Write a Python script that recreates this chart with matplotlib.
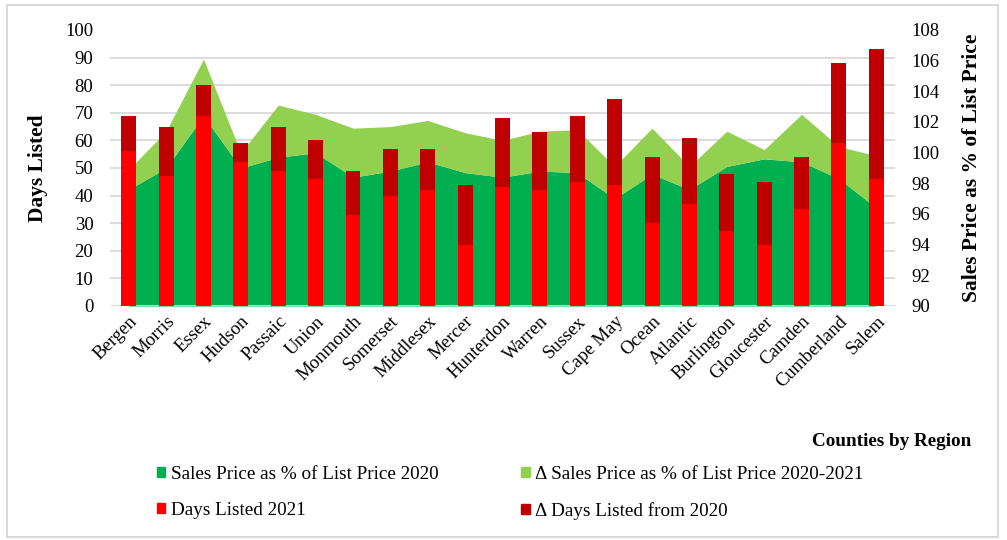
import numpy as np
import matplotlib
matplotlib.use("Agg")
import matplotlib.pyplot as plt
from matplotlib.patches import Patch, Rectangle
from matplotlib.ticker import FixedLocator

plt.rcParams['font.family'] = ['Liberation Serif', 'DejaVu Serif']

counties = ["Bergen", "Morris", "Essex", "Hudson", "Passaic", "Union", "Monmouth",
            "Somerset", "Middlesex", "Mercer", "Hunterdon", "Warren", "Sussex",
            "Cape May", "Ocean", "Atlantic", "Burlington", "Gloucester", "Camden",
            "Cumberland", "Salem"]

# days listed (left axis)
days_2021 = [56, 47, 69, 52, 49, 46, 33, 40, 42, 22, 43, 42, 45, 44, 30, 37, 27, 22, 35, 59, 46]
days_delta = [13, 18, 11, 7, 16, 14, 16, 17, 15, 22, 25, 21, 24, 31, 24, 24, 21, 23, 19, 29, 47]

# sales price as % of list price (right axis)
price_2020 = [97.6, 99.0, 102.4, 99.0, 99.7, 100.0, 98.4, 98.8, 99.4, 98.7, 98.4,
              98.8, 98.7, 97.0, 98.6, 97.6, 99.1, 99.6, 99.4, 98.3, 96.4]
price_delta = [1.3, 2.4, 3.7, 1.0, 3.4, 2.5, 3.2, 2.9, 2.7, 2.6, 2.4,
               2.6, 2.8, 2.1, 3.0, 1.5, 2.3, 0.6, 3.1, 2.1, 3.4]

c_green = "#00B050"
c_lgreen = "#92D050"
c_red = "#FF0000"
c_dred = "#C00000"
c_grid = "#D9D9D9"

fs_tick = 13.5
fs_lab = 15.5
fs_leg = 13.8

fig = plt.figure(figsize=(10.07, 5.4), dpi=100)
ax = fig.add_axes([110/1007, 1-306/540, 785/1007, 276/540])
ax2 = ax.twinx()
ax.set_zorder(ax2.get_zorder() + 1)
ax.patch.set_visible(False)

x = np.arange(len(counties))

# areas on right axis
p20 = np.array(price_2020)
p21 = p20 + np.array(price_delta)
ax2.fill_between(x, 90, p20, color=c_green, lw=0, zorder=2)
ax2.fill_between(x, p20, p21, color=c_lgreen, lw=0, zorder=2)
ax2.set_ylim(90, 108)
ax2.set_yticks(np.arange(90, 109, 2))
# gridlines follow the left axis (every 10 days) but sit behind the areas
ax2.yaxis.set_minor_locator(FixedLocator(90 + 1.8 * np.arange(1, 11)))
ax2.grid(which='minor', axis='y', color=c_grid, lw=1.3, zorder=0)
ax2.set_axisbelow(True)
ax2.tick_params(axis='y', which='both', length=0, labelsize=fs_tick, pad=12)
ax2.set_ylabel("Sales Price as % of List Price", fontsize=fs_lab, fontweight='bold')
ax2.yaxis.set_label_coords(1.085, 0.5)

# stacked bars on left axis
w = 0.4
ax.bar(x, days_2021, w, color=c_red, zorder=3)
ax.bar(x, days_delta, w, bottom=days_2021, color=c_dred, zorder=3)
ax.set_ylim(0, 100)
ax.set_yticks(np.arange(0, 101, 10))
ax.set_xlim(-0.5, len(counties) - 0.5)
ax.set_xticks(x)
ax.set_xticklabels(counties, rotation=45, ha='right', rotation_mode='anchor')
ax.tick_params(axis='both', length=0, labelsize=fs_tick)
ax.tick_params(axis='y', pad=12)
ax.tick_params(axis='x', pad=5)
ax.set_ylabel("Days Listed", fontsize=fs_lab, fontweight='bold')
ax.yaxis.set_label_coords(-0.079, 0.5)

for a in (ax, ax2):
    for s in a.spines.values():
        s.set_visible(False)
ax.axhline(0, color=c_grid, lw=1.3, zorder=1)

fig.text(971/1007, 1-442/540, "Counties by Region", ha='right', va='center',
         fontsize=fs_leg, fontweight='bold')

handles = [Patch(color=c_green, label="Sales Price as % of List Price 2020"),
           Patch(color=c_red, label="Days Listed 2021"),
           Patch(color=c_lgreen, label="\u0394 Sales Price as % of List Price 2020-2021"),
           Patch(color=c_dred, label="\u0394 Days Listed from 2020")]
fig.legend(handles=handles, ncol=2, loc='upper left', bbox_to_anchor=(149/1007, 1-458/540),
           frameon=False, fontsize=fs_leg, handlelength=0.45, handleheight=0.45,
           handletextpad=0.3, columnspacing=4.3, labelspacing=1.0, borderaxespad=0)

fig.patches.append(Rectangle((7/1007, 3/540), 991/1007, 532/540, transform=fig.transFigure,
                             fill=False, edgecolor=c_grid, lw=1.5))

fig.savefig("out.png", dpi=100)
